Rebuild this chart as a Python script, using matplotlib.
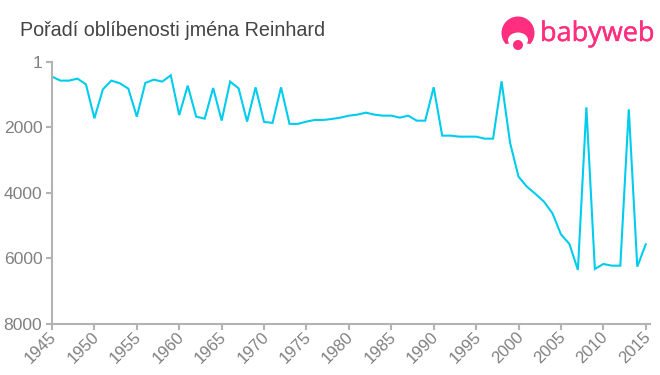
import matplotlib
matplotlib.use("Agg")
import matplotlib.pyplot as plt
import matplotlib.patheffects as pe
from matplotlib.patches import Circle, Ellipse
from matplotlib.transforms import ScaledTranslation

plt.rcParams['font.family'] = ['Liberation Sans', 'DejaVu Sans']

W, H = 660, 375

years = list(range(1945, 2016))
ranks = [448, 570, 570, 509, 682, 1720, 835, 570, 651, 815,
         1670, 640, 540, 600, 407, 1620, 723, 1670, 1730, 795,
         1790, 600, 805, 1820, 775, 1830, 1860, 775, 1890, 1890,
         1820, 1770, 1770, 1740, 1700, 1639, 1608, 1547, 1608, 1639,
         1639, 1700, 1639, 1792, 1792, 773, 2249, 2249, 2280, 2280,
         2280, 2341, 2341, 590, 2463, 3504, 3810, 4030, 4265, 4620,
         5262, 5557, 6351, 1384, 6320, 6168, 6219, 6219, 1445, 6250,
         5567]
x_ticks = list(range(1945, 2020, 5))
y_ticks = [1, 2000, 4000, 6000, 8000]

title = "Pořadí oblíbenosti jména Reinhard"
brand = "babyweb"

gray = '#b3b3b3'
text_gray = '#808080'
pink = '#ff2e7e'

fig = plt.figure(figsize=(W / 100, H / 100), dpi=100)
ax = fig.add_axes([52 / W, 1 - 324 / H, 598 / W, 262 / H])

ax.plot(years, ranks, color='#00ccee', lw=1.5, solid_joinstyle='miter')
ax.set_xlim(1945, 2015.5)
ax.set_ylim(8000, 1)

ax.set_xticks(x_ticks)
ax.set_yticks(y_ticks)
ax.tick_params(axis='both', color=gray, width=1.5, length=4, labelcolor=text_gray, pad=3)
ax.tick_params(axis='y', labelsize=12.6)
ax.tick_params(axis='x', labelsize=12, pad=2)
# nudge the rotated labels up and left, in pixels
nudge = ScaledTranslation(-3 / 100, 3 / 100, fig.dpi_scale_trans)
for lab in ax.get_xticklabels():
    lab.set_rotation(45)
    lab.set_ha('right')
    lab.set_va('top')
    lab.set_rotation_mode('anchor')
    lab.set_transform(lab.get_transform() + nudge)

ax.spines['top'].set_visible(False)
ax.spines['right'].set_visible(False)
ax.spines['left'].set_color(gray)
ax.spines['bottom'].set_color(gray)
ax.spines['left'].set_linewidth(1.5)
ax.spines['bottom'].set_linewidth(1.5)

fig.text(20 / W, 1 - 30 / H, title, fontsize=14.25, color='#444444', va='center', ha='left')

# logo, drawn in pixel coordinates
logo = fig.add_axes([0, 0, 1, 1], facecolor='none')
logo.set_xlim(0, W)
logo.set_ylim(H, 0)
logo.axis('off')
logo.add_patch(Circle((518, 33), 16.5, fc=pink, ec='none'))
logo.add_patch(Ellipse((518, 47), 36, 8, fc='white', ec='none'))
logo.add_patch(Ellipse((518, 40), 20, 15, fc='white', ec='none'))
logo.add_patch(Circle((518, 45), 5, fc=pink, ec='none'))
logo.text(540, 34, brand, fontsize=19.5, color=pink, family=['Open Sans', 'DejaVu Sans'], va='center', ha='left',
          path_effects=[pe.withStroke(linewidth=0.3, foreground=pink)])

fig.savefig('out.png', dpi=100)
